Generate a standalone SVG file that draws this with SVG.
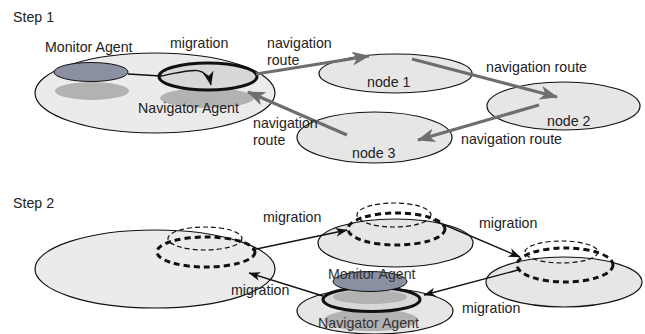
<svg xmlns="http://www.w3.org/2000/svg" width="645" height="334" viewBox="0 0 645 334">
<style>
text{font-family:"Liberation Sans",Arial,sans-serif;font-size:14.2px;fill:#222}
.big{fill:#ebebeb;stroke:#111;stroke-width:1.2}
.node{fill:#e6e6e6;stroke:#111;stroke-width:1.2}
.mon{fill:#8a8fa2;stroke:#111;stroke-width:1}
.shadow{fill:#b2b2b2;stroke:none}
.nav{fill:#d8d8d8;stroke:#111;stroke-width:3}
.route{stroke:#6e6e6e;stroke-width:3.2;fill:none}
.mig{stroke:#111;stroke-width:1.4;fill:none}
.dthin{fill:none;stroke:#111;stroke-width:1.2;stroke-dasharray:5,3}
.dthick{fill:none;stroke:#111;stroke-width:3;stroke-dasharray:6,4}
.soft{fill:#333}
</style>
<defs>
<marker id="ga" markerUnits="userSpaceOnUse" markerWidth="18" markerHeight="14" viewBox="0 0 18 14" refX="17" refY="7" orient="auto">
<path d="M0,0 L18,7 L0,14 L5,7 z" fill="#6e6e6e"/>
</marker>
<marker id="ba" markerUnits="userSpaceOnUse" markerWidth="12" markerHeight="9" viewBox="0 0 12 9" refX="11.5" refY="4.5" orient="auto">
<path d="M0,0 L12,4.5 L0,9 L3.5,4.5 z" fill="#111"/>
</marker>
<marker id="bb" markerUnits="userSpaceOnUse" markerWidth="14" markerHeight="11" viewBox="0 0 14 11" refX="13.5" refY="5.5" orient="auto">
<path d="M0,0 L14,5.5 L0,11 L4,5.5 z" fill="#111"/>
</marker>
</defs>

<g id="step1-label"><text x="13" y="22">Step 1</text></g>

<g id="home1">
<ellipse class="big" cx="155" cy="93" rx="120" ry="40"/>
<ellipse class="shadow" cx="92" cy="91" rx="37" ry="9"/>
<ellipse class="shadow" cx="207" cy="98" rx="47" ry="10"/>
<ellipse class="mon" cx="91" cy="72" rx="37" ry="9.5"/>
<ellipse class="nav" cx="208" cy="76.5" rx="49" ry="13.5"/>
<text x="45" y="52">Monitor Agent</text>
<text x="138" y="113">Navigator Agent</text>
</g>

<g id="node1"><ellipse class="node" cx="395.5" cy="73.5" rx="76.5" ry="19.5"/><text x="367" y="87">node 1</text></g>
<g id="node2"><ellipse class="node" cx="563.5" cy="106" rx="76.5" ry="24"/><text x="547" y="126">node 2</text></g>
<g id="node3"><ellipse class="node" cx="374.5" cy="137.5" rx="77.5" ry="25.5"/><text x="352" y="158">node 3</text></g>

<g id="connectors1">
<path class="mig" d="M128,74 L161,76 C185,72 206,62 211,85" marker-end="url(#bb)"/>
<line class="route" x1="256" y1="74" x2="369" y2="56" marker-end="url(#ga)"/>
<line class="route" x1="412" y1="59" x2="557" y2="97" marker-end="url(#ga)"/>
<line class="route" x1="539" y1="105" x2="418" y2="140" marker-end="url(#ga)"/>
<line class="route" x1="347" y1="135" x2="248" y2="92" marker-end="url(#ga)"/>
</g>

<g id="labels1">
<text x="170" y="48">migration</text>
<text x="267" y="48">navigation</text>
<text x="267" y="65">route</text>
<text x="486" y="72">navigation route</text>
<text x="253" y="128">navigation</text>
<text x="253" y="145">route</text>
<text x="461" y="144">navigation route</text>
</g>

<g id="step2-label"><text x="13" y="208">Step 2</text></g>

<g id="home2">
<ellipse class="big" cx="155" cy="269" rx="120" ry="39"/>
<ellipse class="dthin" cx="205" cy="238.5" rx="37" ry="11.5"/>
<ellipse class="dthick" cx="206" cy="252" rx="49" ry="15"/>
</g>

<g id="node1-s2">
<ellipse class="node" cx="395.5" cy="243" rx="77.5" ry="24"/>
<ellipse class="dthin" cx="394" cy="215" rx="37" ry="12"/>
<ellipse class="dthick" cx="396.5" cy="229" rx="48.5" ry="16"/>
</g>

<g id="node2-s2">
<ellipse class="node" cx="564" cy="282" rx="78" ry="25"/>
<ellipse class="dthin" cx="561.5" cy="252" rx="36.5" ry="11"/>
<ellipse class="dthick" cx="565" cy="265" rx="48" ry="17"/>
</g>

<g id="node3-s2">
<ellipse class="node" cx="375" cy="311" rx="78" ry="23"/>
<ellipse class="shadow" cx="371" cy="320" rx="47" ry="11"/>
<ellipse class="nav" cx="371.5" cy="299.5" rx="48.5" ry="12"/>
<ellipse class="shadow" cx="370" cy="297" rx="37" ry="7"/>
<ellipse class="mon" cx="370" cy="281.5" rx="37" ry="10"/>
<text class="soft" x="328" y="279">Monitor Agent</text>
<text class="soft" x="318" y="328">Navigator Agent</text>
</g>

<g id="connectors2">
<line class="mig" x1="252" y1="250" x2="347" y2="230" marker-end="url(#ba)"/>
<line class="mig" x1="433" y1="220" x2="520" y2="257" marker-end="url(#ba)"/>
<line class="mig" x1="518" y1="270" x2="424" y2="295" marker-end="url(#ba)"/>
<line class="mig" x1="323" y1="296" x2="249" y2="273" marker-end="url(#ba)"/>
</g>

<g id="labels2">
<text x="263" y="222">migration</text>
<text x="479" y="228">migration</text>
<text x="231" y="295">migration</text>
<text x="462" y="313">migration</text>
</g>
</svg>
